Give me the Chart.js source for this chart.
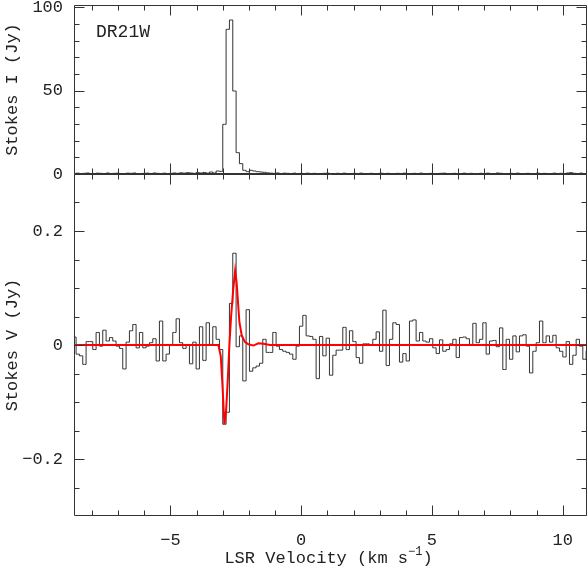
<!DOCTYPE html>
<html>
<head>
<meta charset="utf-8">
<title>DR21W Stokes I / V</title>
<script src="https://cdn.jsdelivr.net/npm/chart.js@4.4.0/dist/chart.umd.min.js"></script>
<style>
  html, body { margin: 0; padding: 0; background: #fff; }
  #wrap { position: relative; width: 588px; height: 568px; }
  #wrap canvas { position: absolute; left: 0; top: 0; }
</style>
</head>
<body>
<div id="wrap">
  <canvas id="chartI" width="588" height="194"></canvas>
  <canvas id="chartV" width="588" height="568"></canvas>
</div>
<script>
// --- channel grid (km/s) ---
const chanFirst = -8.674;   // centre of first channel
const chanWidth = 0.1275;   // channel width
const velMin = -8.69, velMax = 10.93;

// --- Stokes I (Jy), one value per channel ---
const stokesI = [
  0.3,0.5,0.2,0.4,0.6,0.3,0.2,0.5,0.4,0.3,
  0.6,0.2,0.4,0.5,0.3,0.2,0.5,0.4,0.6,0.3,
  0.2,0.4,0.5,0.3,0.6,0.4,0.2,0.5,0.3,0.4,
  0.6,0.4,0.7,0.5,0.8,0.6,0.4,0.8,0.6,0.9,
  0.5,1.2,0.6,1.8,1.6,29.8,86.8,92.4,49.8,12.8,
  6.2,2.2,1.4,2.2,1.8,1.4,1.2,1.0,0.7,0.5,
  0.4,0.6,0.3,0.5,0.4,0.3,0.5,0.2,0.4,0.3,
  0.5,0.2,0.4,0.3,0.2,0.4,0.5,0.2,0.3,0.4,
  0.2,0.5,0.3,0.2,0.4,0.3,0.5,0.2,0.3,0.4,
  0.2,0.3,0.5,0.2,0.4,0.3,0.2,0.4,0.3,0.5,
  0.2,0.3,0.4,0.2,0.5,0.3,0.2,0.4,0.3,0.2,
  0.4,0.5,0.2,0.3,0.4,0.2,0.3,0.5,0.2,0.4,
  0.3,0.2,0.4,0.3,0.5,0.2,0.3,0.6,0.4,0.2,
  0.3,0.4,0.2,0.5,0.3,0.2,0.4,0.3,0.2,0.5,
  0.3,0.4,0.2,0.3,0.5,0.2,0.4,0.3,0.6,0.8,
  0.4,0.3,0.5,0.2,0.4
];

// --- Stokes V (Jy), one value per channel ---
const stokesV = [
  0.014,-0.016,-0.019,-0.034,0.006,0.006,-0.008,0.022,-0.002,0.026,
  0.007,0.013,0.007,-0.002,-0.006,-0.042,0.005,0.025,0.036,-0.005,
  0.022,-0.005,-0.002,0.004,0.011,-0.028,0.042,-0.028,-0.016,0.000,
  0.022,0.046,0.004,-0.006,0.000,-0.033,0.005,-0.042,0.032,-0.027,
  0.039,0.001,0.032,0.010,-0.008,-0.139,-0.118,0.073,0.161,-0.003,
  0.016,-0.063,0.062,-0.046,-0.040,-0.037,-0.032,0.010,-0.013,-0.013,
  0.022,-0.002,-0.008,-0.011,-0.013,-0.016,-0.025,-0.002,0.033,0.052,
  0.016,0.015,0.010,-0.059,0.015,-0.019,0.012,-0.053,-0.018,-0.009,
  -0.009,0.031,-0.008,0.025,0.006,-0.022,-0.032,0.002,0.002,0.000,
  0.010,0.023,-0.011,0.061,-0.036,0.010,0.039,0.036,-0.030,-0.015,
  -0.028,0.042,0.044,0.007,0.022,0.007,0.005,0.011,-0.005,-0.015,
  0.009,-0.011,-0.008,0.002,0.010,-0.022,0.013,0.014,0.011,0.001,
  0.038,0.004,0.010,0.039,-0.016,0.007,0.008,-0.003,0.030,-0.043,
  0.010,-0.025,0.016,-0.012,0.016,0.018,-0.002,-0.049,-0.011,0.004,
  0.042,0.004,0.016,0.005,0.017,-0.005,-0.011,-0.021,0.006,-0.034,
  -0.018,0.010,-0.002,-0.025,-0.010
];

// --- Zeeman fit to Stokes V ---
const fitVel = [-8.69,-3.168,-3.076,-3.007,-2.938,-2.873,-2.808,-2.747,-2.682,-2.605,
                -2.528,-2.471,-2.364,-2.272,-2.146,-2.020,-1.828,-1.637,-1.445,-1.19,10.93];
const fitV   = [0,0,-0.02,-0.075,-0.139,-0.115,-0.06,0.0,0.05,0.095,
                0.130,0.11,0.040,0.016,0.005,0.001,-0.001,0.003,0.002,0,0];

// --- ticks ---
const xMajor = [-5, 0, 5, 10];
const xMinor = [-8,-7,-6,-5,-4,-3,-2,-1,0,1,2,3,4,5,6,7,8,9,10];
const yIMajor = [0, 50, 100];
const yIMinor = [0,10,20,30,40,50,60,70,80,90,100];
const yVMajor = [-0.2, 0, 0.2];
const yVMinor = [-0.25,-0.2,-0.15,-0.1,-0.05,0,0.05,0.1,0.15,0.2,0.25];

const FONT = "'Liberation Mono', monospace";
const inkColor = '#222';
const axisColor = '#333';

const chanVel = stokesV.map((_, i) => chanFirst + i * chanWidth);
const fmt = v => String(v).replace('-', '\u2212');

function frameTicks(chart, xmaj, xmin, ymaj, ymin) {
  const { ctx, chartArea: a } = chart;
  const xs = chart.scales.x, ys = chart.scales.y;
  const L = Math.round(a.left) + 0.5, R = Math.round(a.right) - 0.5;
  const T = Math.round(a.top) + 0.5, B = Math.round(a.bottom) - 0.5;
  ctx.save();
  ctx.strokeStyle = axisColor;
  ctx.lineWidth = 1;
  ctx.beginPath();
  ctx.rect(L, T, R - L, B - T);
  xmin.forEach(v => {
    const p = Math.round(xs.getPixelForValue(v)) + 0.5;
    const len = xmaj.includes(v) ? 10 : 5;
    ctx.moveTo(p, T); ctx.lineTo(p, T + len);
    ctx.moveTo(p, B); ctx.lineTo(p, B - len);
  });
  ymin.forEach(v => {
    const p = Math.round(ys.getPixelForValue(v)) + 0.5;
    const len = ymaj.includes(v) ? 10 : 5;
    ctx.moveTo(L, p); ctx.lineTo(L + len, p);
    ctx.moveTo(R, p); ctx.lineTo(R - len, p);
  });
  ctx.stroke();
  ctx.restore();
}

function yTitle(chart, text) {
  const { ctx, chartArea: a } = chart;
  ctx.save();
  ctx.fillStyle = inkColor;
  ctx.font = '17px ' + FONT;
  ctx.textAlign = 'center';
  ctx.textBaseline = 'alphabetic';
  ctx.translate(17, (a.top + a.bottom) / 2);
  ctx.rotate(-Math.PI / 2);
  ctx.fillText(text, 0, 0);
  ctx.restore();
}

function fixWidth(w) {
  return scale => {
    scale.width = w;
    scale.paddingTop = 0; scale.paddingBottom = 0;
    scale.paddingLeft = 0; scale.paddingRight = 0;
  };
}

// ---------- Stokes I panel ----------
new Chart(document.getElementById('chartI'), {
  type: 'line',
  data: {
    datasets: [{
      data: chanVel.map((v, i) => ({ x: v, y: stokesI[i] })),
      borderColor: '#333',
      borderWidth: 1,
      stepped: 'middle',
      pointRadius: 0,
      order: 0
    }, {
      data: [{ x: velMin, y: 0 }, { x: velMax, y: 0 }],
      borderColor: '#999',
      borderWidth: 1,
      pointRadius: 0,
      order: 1
    }]
  },
  options: {
    responsive: false,
    animation: false,
    events: [],
    layout: { padding: { top: 5, right: 1, bottom: 20, left: 0 } },
    plugins: { legend: { display: false }, tooltip: { enabled: false } },
    scales: {
      x: { type: 'linear', min: velMin, max: velMax, display: false },
      y: {
        min: 0, max: 101.4,
        grid: { display: false, drawTicks: false },
        border: { display: false },
        afterBuildTicks: s => { s.ticks = yIMajor.map(v => ({ value: v })); },
        afterFit: fixWidth(74),
        ticks: {
          autoSkip: false, padding: 11, color: inkColor,
          font: { family: FONT, size: 17 },
          callback: v => fmt(v)
        }
      }
    }
  },
  plugins: [{
    id: 'decorI',
    afterDatasetsDraw(chart) {
      frameTicks(chart, xMajor, xMinor, yIMajor, yIMinor);
      yTitle(chart, 'Stokes I (Jy)');
      const ctx = chart.ctx;
      ctx.save();
      ctx.fillStyle = inkColor;
      ctx.font = '18px ' + FONT;
      ctx.textBaseline = 'middle';
      ctx.fillText('DR21W', 96, 32);
      ctx.restore();
    }
  }]
});

// ---------- Stokes V panel ----------
new Chart(document.getElementById('chartV'), {
  type: 'line',
  data: {
    datasets: [{
      data: fitVel.map((v, i) => ({ x: v, y: fitV[i] })),
      borderColor: '#ff0000',
      borderWidth: 2,
      pointRadius: 0,
      order: 0
    }, {
      data: chanVel.map((v, i) => ({ x: v, y: stokesV[i] })),
      borderColor: '#333',
      borderWidth: 1,
      stepped: 'middle',
      pointRadius: 0,
      order: 1
    }]
  },
  options: {
    responsive: false,
    animation: false,
    events: [],
    layout: { padding: { top: 174, right: 1, bottom: 0, left: 0 } },
    plugins: { legend: { display: false }, tooltip: { enabled: false } },
    scales: {
      x: {
        type: 'linear', min: velMin, max: velMax,
        grid: { display: false, drawTicks: false },
        border: { display: false },
        afterBuildTicks: s => { s.ticks = xMajor.map(v => ({ value: v })); },
        afterFit: s => {
          s.height = 52;
          s.paddingLeft = 0; s.paddingRight = 0;
          s.paddingTop = 0; s.paddingBottom = 0;
        },
        ticks: {
          autoSkip: false, maxRotation: 0, padding: 14, color: inkColor,
          font: { family: FONT, size: 17 },
          callback: v => fmt(v)
        }
      },
      y: {
        min: -0.3, max: 0.3,
        grid: { display: false, drawTicks: false },
        border: { display: false },
        afterBuildTicks: s => { s.ticks = yVMajor.map(v => ({ value: v })); },
        afterFit: fixWidth(74),
        ticks: {
          autoSkip: false, padding: 11, color: inkColor,
          font: { family: FONT, size: 17 },
          callback: v => fmt(v)
        }
      }
    }
  },
  plugins: [{
    id: 'decorV',
    afterDatasetsDraw(chart) {
      frameTicks(chart, xMajor, xMinor, yVMajor, yVMinor);
      yTitle(chart, 'Stokes V (Jy)');
      const { ctx, chartArea: a } = chart;
      const main = 'LSR Velocity (km s', sup = '\u22121', close = ')';
      ctx.save();
      ctx.fillStyle = inkColor;
      ctx.textBaseline = 'alphabetic';
      ctx.font = '17px ' + FONT;
      const wm = ctx.measureText(main).width, wc = ctx.measureText(close).width;
      ctx.font = '12px ' + FONT;
      const ws = ctx.measureText(sup).width;
      const x0 = (a.left + a.right) / 2 - 2 - (wm + ws + wc) / 2;
      ctx.font = '17px ' + FONT;
      ctx.fillText(main, x0, 563);
      ctx.fillText(close, x0 + wm + ws, 563);
      ctx.font = '12px ' + FONT;
      ctx.fillText(sup, x0 + wm, 555);
      ctx.restore();
    }
  }]
});
</script>
</body>
</html>
